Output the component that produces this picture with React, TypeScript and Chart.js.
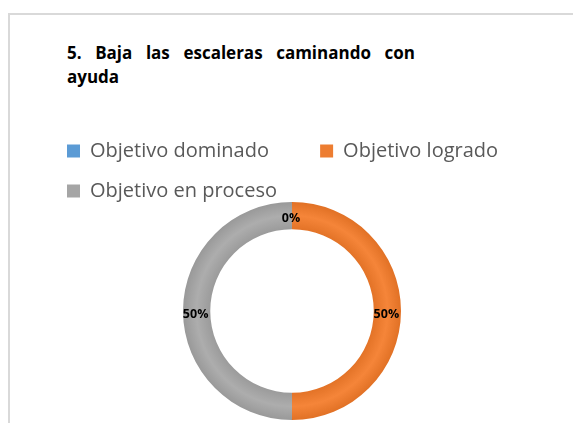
import React, { useEffect, useRef } from 'react';
import { Chart, registerables } from 'chart.js';

Chart.register(...registerables);

const categories = ['Objetivo dominado', 'Objetivo logrado', 'Objetivo en proceso'];
const percentValues = [0, 50, 50];
const sliceColors = ['#5B9BD5', '#ED7D31', '#A5A5A5'];
const titleLines = ['5. Baja las escaleras caminando con', 'ayuda'];
const legendGaps = ['      ', '', ''];

function shade(hex: string, amt: number): string {
  const n = parseInt(hex.slice(1), 16);
  const r = Math.max(0, Math.min(255, ((n >> 16) & 255) + amt));
  const g = Math.max(0, Math.min(255, ((n >> 8) & 255) + amt));
  const b = Math.max(0, Math.min(255, (n & 255) + amt));
  return `rgb(${r},${g},${b})`;
}

const labelPlugin = {
  id: 'pctLabels',
  afterDatasetsDraw(chart: any) {
    const { ctx } = chart;
    const meta = chart.getDatasetMeta(0);
    ctx.save();
    ctx.font = 'bold 12.5px "Open Sans"';
    ctx.fillStyle = '#000000';
    ctx.textAlign = 'center';
    ctx.textBaseline = 'middle';
    meta.data.forEach((arc: any, i: number) => {
      const p = arc.tooltipPosition(false);
      ctx.fillText(`${percentValues[i]}%`, p.x - 1, p.y + 3);
    });
    ctx.restore();
  },
};

export default function App() {
  const canvasRef = useRef<HTMLCanvasElement | null>(null);

  useEffect(() => {
    if (!canvasRef.current) return;
    const chart = new Chart(canvasRef.current, {
      type: 'doughnut',
      data: {
        labels: categories,
        datasets: [
          {
            data: percentValues,
            backgroundColor: (c: any) => {
              const i = c.dataIndex;
              const base = sliceColors[i];
              const area = c.chart.chartArea;
              if (!area) return base;
              const cx = (area.left + area.right) / 2;
              const cy = (area.top + area.bottom) / 2;
              const outer = Math.min(area.right - area.left, area.bottom - area.top) / 2;
              const inner = outer * 0.75;
              const g = c.chart.ctx.createRadialGradient(cx, cy, inner, cx, cy, outer);
              g.addColorStop(0, shade(base, -10));
              g.addColorStop(0.5, shade(base, 8));
              g.addColorStop(1, shade(base, -12));
              return g;
            },
            borderWidth: 0,
          },
        ],
      },
      options: {
        animation: false,
        responsive: false,
        maintainAspectRatio: false,
        cutout: '75%',
        layout: { padding: { left: 37, right: 36, top: 106, bottom: 3 } },
        plugins: {
          title: { display: false },
          tooltip: { enabled: false },
          legend: {
            display: true,
            position: 'top',
            align: 'start',
            maxHeight: 81,
            labels: {
              boxWidth: 13,
              boxHeight: 13,
              padding: 20,
              color: '#595959',
              font: { family: '"Open Sans"', size: 20 },
              generateLabels: () =>
                categories.map((text, i) => ({
                  text: text + legendGaps[i],
                  fillStyle: sliceColors[i],
                  strokeStyle: sliceColors[i],
                  lineWidth: 0,
                  hidden: false,
                  index: i,
                  fontColor: '#595959',
                })),
            },
          },
        },
      },
      plugins: [labelPlugin],
    });
    return () => chart.destroy();
  }, []);

  return (
    <div style={{ position: 'fixed', left: 0, top: 0, width: 573, height: 423, overflow: 'hidden', background: '#ffffff' }}>
      <div
        style={{
          position: 'absolute',
          left: 8,
          top: 13,
          width: 700,
          height: 500,
          border: '2px solid #d9d9d9',
          boxSizing: 'border-box',
        }}
      />
      <div
        style={{
          position: 'absolute',
          left: 67,
          top: 41,
          width: 348,
          fontFamily: '"Open Sans", sans-serif',
          fontWeight: 700,
          fontSize: 17,
          lineHeight: '24px',
          color: '#000000',
        }}
      >
        <div style={{ textAlign: 'justify', textAlignLast: 'justify', whiteSpace: 'nowrap' as any }}>{titleLines[0]}</div>
        <div>{titleLines[1]}</div>
      </div>
      <canvas
        ref={canvasRef}
        width={563}
        height={408}
        style={{ position: 'absolute', left: 10, top: 15, width: 563, height: 408 }}
      />
    </div>
  );
}
